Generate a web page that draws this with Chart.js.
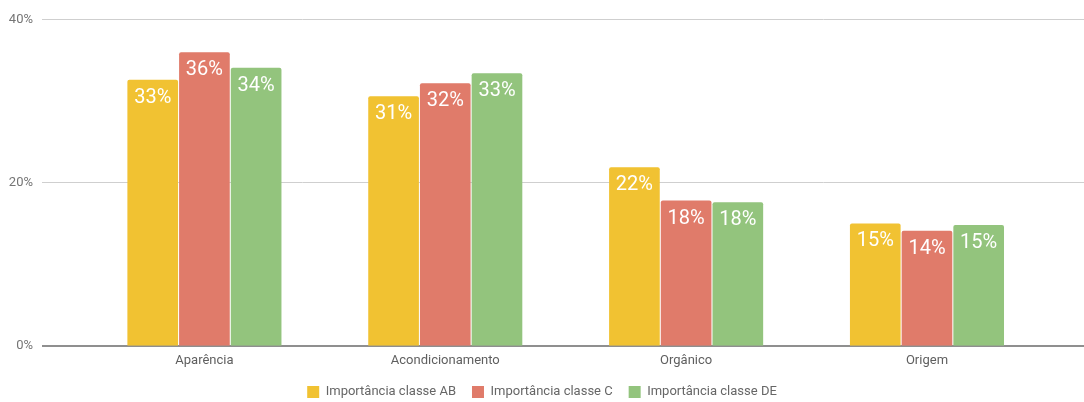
<!DOCTYPE html>
<html>
<head>
<meta charset="utf-8">
<script src="https://cdn.jsdelivr.net/npm/chart.js@4.4.1/dist/chart.umd.min.js"></script>
<style>
  html, body { margin: 0; padding: 0; background: #ffffff; }
  #wrap { width: 1084px; height: 402px; position: relative; }
</style>
</head>
<body>
<div id="wrap"><canvas id="chart"></canvas></div>
<script>
// Categories, series and axis ticks
const categories = ['Aparência', 'Acondicionamento', 'Orgânico', 'Origem'];
const seriesNames = ['Importância classe AB', 'Importância classe C', 'Importância classe DE'];
const valuesAB = [32.6, 30.6, 21.9, 15.0];
const valuesC = [36.0, 32.2, 17.8, 14.1];
const valuesDE = [34.1, 33.4, 17.6, 14.8];
const yTicks = [0, 20, 40];

const seriesColors = ['#f1c232', '#e07b6a', '#93c47d'];

Chart.defaults.font.family = 'Roboto, "Liberation Sans", Arial, sans-serif';

// Horizontal guide lines spanning the full width, drawn under the bars
const wideGrid = {
  id: 'wideGrid',
  beforeDatasetsDraw(chart) {
    const ctx = chart.ctx;
    const yScale = chart.scales.y;
    ctx.save();
    yTicks.forEach(v => {
      const py = yScale.getPixelForValue(v);
      ctx.beginPath();
      if (v === 0) {
        ctx.strokeStyle = '#8f8f8f';
        ctx.lineWidth = 2;
        ctx.moveTo(42, Math.round(py));
        ctx.lineTo(chart.width, Math.round(py));
      } else {
        ctx.strokeStyle = '#cfcfcf';
        ctx.lineWidth = 1;
        ctx.moveTo(42, Math.floor(py) + 0.5);
        ctx.lineTo(chart.width, Math.floor(py) + 0.5);
      }
      ctx.stroke();
    });
    ctx.restore();
  }
};

// Percentage labels inside the top of each bar
const barLabels = {
  id: 'barLabels',
  afterDatasetsDraw(chart) {
    const ctx = chart.ctx;
    ctx.save();
    ctx.font = '20px Roboto, "Liberation Sans", sans-serif';
    ctx.fillStyle = '#ffffff';
    ctx.textAlign = 'center';
    ctx.textBaseline = 'alphabetic';
    chart.data.datasets.forEach((ds, i) => {
      const meta = chart.getDatasetMeta(i);
      meta.data.forEach((bar, j) => {
        ctx.fillText(Math.round(ds.data[j]) + '%', bar.x, bar.y + 23);
      });
    });
    ctx.restore();
  }
};

const makeSet = (label, data, color) => ({
  label,
  data,
  backgroundColor: color,
  borderWidth: 0,
  borderRadius: 2,
  categoryPercentage: 0.644,
  barPercentage: 0.98
});

new Chart(document.getElementById('chart'), {
  type: 'bar',
  data: {
    labels: categories,
    datasets: [
      makeSet(seriesNames[0], valuesAB, seriesColors[0]),
      makeSet(seriesNames[1], valuesC, seriesColors[1]),
      makeSet(seriesNames[2], valuesDE, seriesColors[2])
    ]
  },
  options: {
    responsive: true,
    maintainAspectRatio: false,
    animation: false,
    layout: { padding: { top: 19.5, right: 0, bottom: -6.4, left: 0 } },
    scales: {
      x: {
        grid: { display: false, drawTicks: false },
        border: { display: false },
        ticks: { color: '#5f5f5f', font: { size: 13 }, padding: 7, maxRotation: 0 },
        afterFit: s => { s.height = 23.6; }
      },
      y: {
        min: 0,
        max: 40,
        grid: { display: false, drawTicks: true, tickLength: 48 },
        border: { display: false },
        afterBuildTicks: s => { s.ticks = yTicks.map(v => ({ value: v })); },
        ticks: {
          color: '#757575',
          font: { size: 13 },
          padding: 3,
          callback: v => v + '%'
        },
        afterFit: s => { s.width = 84; }
      },
      yRight: {
        position: 'right',
        display: true,
        grid: { display: false, drawTicks: false },
        border: { display: false },
        ticks: { display: false },
        afterFit: s => { s.width = 36.6; }
      }
    },
    plugins: {
      legend: {
        position: 'bottom',
        labels: {
          boxWidth: 12,
          boxHeight: 12,
          padding: 16,
          color: '#666666',
          font: { size: 13 }
        }
      },
      tooltip: { enabled: false }
    }
  },
  plugins: [wideGrid, barLabels]
});
</script>
</body>
</html>
